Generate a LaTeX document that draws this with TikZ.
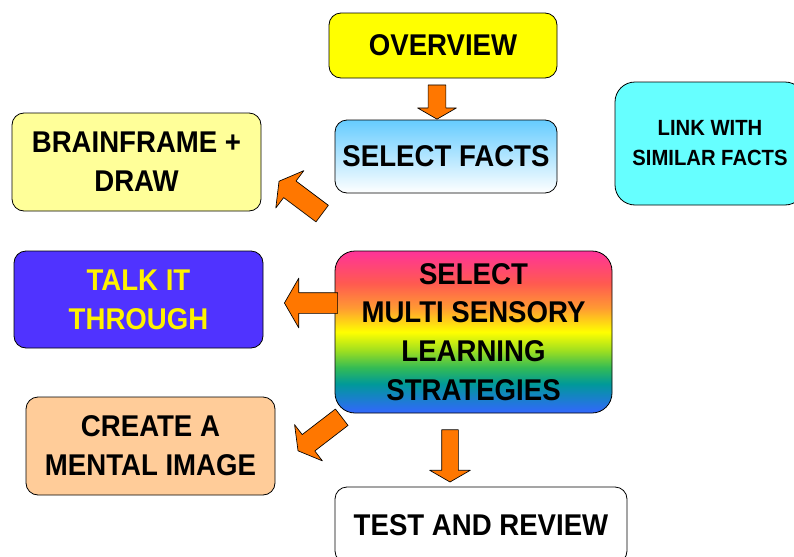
\documentclass[tikz,border=0pt]{standalone}
\usepackage{fontspec}
\setmainfont{Liberation Sans}[FakeStretch=0.92]
\usetikzlibrary{shapes.arrows,calc}
\definecolor{overviewyellow}{HTML}{FFFF00}
\definecolor{factsblue}{HTML}{66CCFF}
\definecolor{linkcyan}{HTML}{66FFFF}
\definecolor{brainyellow}{HTML}{FFFF99}
\definecolor{talkblue}{HTML}{5033FF}
\definecolor{imagepeach}{HTML}{FFCC99}
\definecolor{arroworange}{HTML}{FF7700}
\definecolor{rbpink}{HTML}{FF3399}
\definecolor{rbred}{HTML}{FF5A50}
\definecolor{rborange}{HTML}{FF9933}
\definecolor{rbyg}{HTML}{99DD22}
\definecolor{rbgreen}{HTML}{33BB55}
\definecolor{rbteal}{HTML}{009999}
\definecolor{rbblue}{HTML}{3366FF}
\pgfdeclareverticalshading{rainbow}{100bp}{color(0bp)=(rbblue); color(25bp)=(rbblue);
  color(34bp)=(rbteal); color(39bp)=(rbgreen); color(44bp)=(rbyg); color(50bp)=(yellow);
  color(57.5bp)=(rborange); color(65bp)=(rbred); color(75bp)=(rbpink); color(100bp)=(rbpink)}
% block arrow between two points: from, to, half shaft width, head extend
\newcommand\blockarrow[4]{%
  \path let \p1=#1, \p2=#2, \n1={atan2(\y2-\y1,\x2-\x1)}, \n2={veclen(\x2-\x1,\y2-\y1)} in
    node[bigarrow, inner ysep=#3, single arrow head extend=#4, minimum height=\n2, rotate=\n1]
    at ($(\p1)!0.5!(\p2)$) {};}
\begin{document}
\begin{tikzpicture}[line join=round, x=0.75pt, y=-0.75pt]
  \tikzset{box/.style={draw=black, line width=0.6pt, rounded corners=9pt, align=center,
      inner sep=0pt, font=\fontsize{22.5}{29}\selectfont\bfseries},
    bigarrow/.style={single arrow, draw=black, line width=0.5pt, fill=arroworange,
      inner xsep=0pt, single arrow tip angle=120}}
  \useasboundingbox (0,0) rectangle (794,557);
  % boxes
  \node[box, fill=overviewyellow, minimum width=171pt, minimum height=48.75pt] (overview) at (443,45.5) {OVERVIEW};
  \node[box, top color=factsblue, bottom color=white, minimum width=166.5pt, minimum height=54.75pt] (facts) at (446,156.5) {SELECT FACTS};
  \node[box, fill=linkcyan, rounded corners=15pt, minimum width=142.5pt, minimum height=92.25pt,
    font=\fontsize{16.5}{22.5}\selectfont\bfseries] (link) at (710,143.5) {LINK WITH\\SIMILAR FACTS};
  \node[box, fill=brainyellow, minimum width=186.75pt, minimum height=73.5pt] (brain) at (136.5,162) {BRAINFRAME +\\DRAW};
  \node[box, fill=talkblue, text=yellow, minimum width=186.75pt, minimum height=72.75pt] (talk) at (138.5,299.5) {TALK IT\\THROUGH};
  \node[box, shading=rainbow, rounded corners=15pt, minimum width=207.75pt, minimum height=121.5pt] (strat) at (473.5,332)
    {SELECT\\MULTI SENSORY\\LEARNING\\STRATEGIES};
  \node[box, fill=imagepeach, minimum width=186.75pt, minimum height=73.5pt] (image) at (150.5,446) {CREATE A\\MENTAL IMAGE};
  \node[box, fill=white, minimum width=219pt, minimum height=57pt] (test) at (481,525) {TEST AND REVIEW};
  % arrows
  \blockarrow{($(overview.south)+(-6,4)$)}{($(facts.north)+(-9,-3)$)}{6.4pt}{7.9pt}
  \blockarrow{($(facts.south west)+(-10,22)$)}{($(brain.east)+(20,21)$)}{7.5pt}{9.75pt}
  \blockarrow{($(strat.west)+(6,-29)$)}{($(talk.east)+(24,3.5)$)}{7.5pt}{10.9pt}
  \blockarrow{($(strat.south west)+(9.5,2)$)}{($(image.east)+(25,3)$)}{7.5pt}{9.4pt}
  \blockarrow{($(strat.south)+(-23.5,14)$)}{($(test.north)+(-31,-7)$)}{6pt}{9pt}
\end{tikzpicture}
\end{document}
